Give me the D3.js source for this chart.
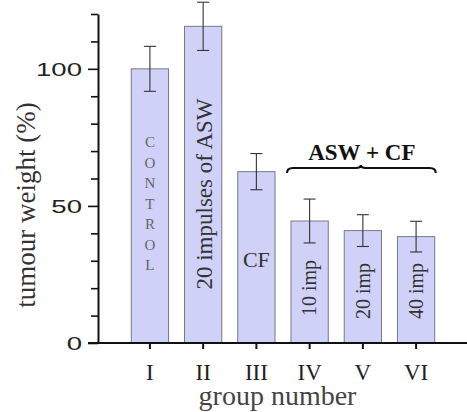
<!DOCTYPE html>
<html>
<head>
<meta charset="utf-8">
<script src="https://cdn.jsdelivr.net/npm/d3@7"></script>
<style>
  body { margin: 0; background: #fff; }
  svg { display: block; }
</style>
</head>
<body>
<svg class="chart" width="467" height="412"></svg>
<script>
// data
let groups = ["I", "II", "III", "IV", "V", "VI"];
let weights = [100, 115.5, 62.5, 44.5, 41, 38.8];
let errors = [8.2, 8.8, 6.6, 8, 5.8, 5.6];
let barLabels = ["CONTROL", "20 impulses of ASW", "CF", "10 imp", "20 imp", "40 imp"];
let yTicks = d3.range(0, 121, 10);
let yLabeled = [0, 50, 100];

var svg = d3.select(".chart");
var width = +svg.attr("width");
var height = +svg.attr("height");

let margin = {left: 98, right: 0, top: 14, bottom: 69};
let innerHeight = height - margin.top - margin.bottom;

var xScale = d3.scaleBand()
               .domain(groups)
               .range([margin.left, width + 1])
               .paddingInner(0.3)
               .paddingOuter(0.625);

var yScale = d3.scaleLinear()
               .domain([0, 120])
               .range([margin.top + innerHeight, margin.top]);

let serif = "Liberation Serif";
let sans = "Liberation Sans";

// the digits on the y axis are a wide face, stretch them sideways
function widen(sel, sx) {
	sel.each(function() {
		let w = this.getComputedTextLength();
		if (w > 0) {
			d3.select(this).attr("textLength", w * sx).attr("lengthAdjust", "spacingAndGlyphs");
		}
	});
}

// bars
svg.selectAll(".bar")
   .data(weights)
   .enter().append("rect")
   .attr("class", "bar")
   .attr("x", (d, i) => xScale(groups[i]))
   .attr("y", d => yScale(d))
   .attr("width", xScale.bandwidth())
   .attr("height", d => yScale(0) - yScale(d))
   .attr("fill", "#d0d1f8")
   .attr("stroke", "#7a7a86")
   .attr("stroke-width", 1);

// error bars
let errG = svg.append("g").attr("stroke", "#333").attr("stroke-width", 1.1);
weights.forEach((w, i) => {
	let cx = xScale(groups[i]) + xScale.bandwidth() / 2;
	let top = yScale(w + errors[i]);
	let bot = yScale(w - errors[i]);
	errG.append("line").attr("x1", cx).attr("x2", cx).attr("y1", top).attr("y2", bot);
	errG.append("line").attr("x1", cx - 6).attr("x2", cx + 6).attr("y1", top).attr("y2", top);
	errG.append("line").attr("x1", cx - 6).attr("x2", cx + 6).attr("y1", bot).attr("y2", bot);
});

// y axis
let yAxis = svg.append("g")
	.attr("transform", `translate(${margin.left},0)`)
	.call(d3.axisLeft(yScale)
	        .tickValues(yTicks)
	        .tickSizeOuter(0)
	        .tickFormat(d => yLabeled.includes(d) ? d : ""));
yAxis.select(".domain").attr("stroke", "#111").attr("stroke-width", 2);
yAxis.selectAll(".tick line")
     .attr("stroke", "#111")
     .attr("stroke-width", 1.6)
     .attr("x2", d => yLabeled.includes(d) ? -10 : -7);
yAxis.selectAll(".tick text").filter(d => !yLabeled.includes(d)).remove();
yAxis.selectAll(".tick text")
     .attr("x", -16)
     .attr("dy", "0.36em")
     .attr("fill", "#222")
     .attr("font-family", sans)
     .attr("font-size", 19)
     .call(widen, 1.45);

// x axis
let xAxis = svg.append("g")
	.attr("transform", `translate(0,${yScale(0)})`)
	.call(d3.axisBottom(xScale).tickSizeOuter(0).tickSize(6).tickFormat(""));
xAxis.select(".domain").remove();
xAxis.selectAll(".tick text").remove();
xAxis.selectAll(".tick line").attr("stroke", "#111").attr("stroke-width", 2);
svg.append("line")
   .attr("x1", margin.left - 10).attr("x2", width)
   .attr("y1", yScale(0)).attr("y2", yScale(0))
   .attr("stroke", "#111").attr("stroke-width", 2);

function addText(x, y, str, opt) {
	let parent = svg;
	if (opt.rotate) {
		parent = svg.append("g").attr("transform", `translate(${x},${y}) rotate(${opt.rotate})`);
		x = 0;
		y = 0;
	}
	let t = parent.append("text")
	           .attr("x", x)
	           .attr("y", y)
	           .attr("text-anchor", opt.anchor || "middle")
	           .attr("fill", opt.color || "#222")
	           .attr("font-family", opt.family || serif)
	           .attr("font-size", opt.size)
	           .attr("font-weight", opt.weight || "normal")
	           .text(str);
	if (opt.central) t.attr("dominant-baseline", "central");
	return t;
}

let cx = g => xScale(g) + xScale.bandwidth() / 2;

// group numerals
groups.forEach(g => {
	addText(cx(g), 380, g, {size: 23, color: "#222"});
});

// axis titles
addText((margin.left + width) / 2 - 5, 405, "group number", {size: 28, color: "#444"});
addText(26, 205, "tumour weight (%)", {size: 27, rotate: -90, central: true, color: "#333"});

// labels inside bars; CONTROL is written as a column of upright letters
let control = svg.append("text")
	.attr("text-anchor", "middle")
	.attr("fill", "#666")
	.attr("font-family", serif)
	.attr("font-size", 15);
control.selectAll("tspan")
	.data(barLabels[0].split(""))
	.enter().append("tspan")
	.attr("x", cx("I"))
	.attr("y", (d, i) => 147 + i * 20.5)
	.text(d => d);
addText(cx("II") + 1, 194, barLabels[1], {size: 23, rotate: -90, central: true, color: "#333"});
addText(cx("III"), 267, barLabels[2], {size: 22, color: "#333"});
addText(cx("IV") - 1, 288, barLabels[3], {size: 20, rotate: -90, central: true, color: "#333"});
addText(cx("V"), 291, barLabels[4], {size: 20, rotate: -90, central: true, color: "#333"});
addText(cx("VI"), 291, barLabels[5], {size: 20, rotate: -90, central: true, color: "#333"});

// brace over the ASW + CF groups
let bx0 = xScale("IV") - 4;
let bx1 = xScale("VI") + xScale.bandwidth() + 1;
let bm = cx("V") - 2;
let by = 168;
svg.append("path")
   .attr("d", `M${bx0},${by + 5} Q${bx0},${by} ${bx0 + 6},${by} L${bm - 5},${by} Q${bm},${by} ${bm},${by - 3}`
            + ` Q${bm},${by} ${bm + 5},${by} L${bx1 - 6},${by} Q${bx1},${by} ${bx1},${by + 5}`)
   .attr("fill", "none")
   .attr("stroke", "#111")
   .attr("stroke-width", 2.2);
addText(bm + 1, 160, "ASW + CF", {size: 23, weight: "bold", color: "#111"});
</script>
</body>
</html>
